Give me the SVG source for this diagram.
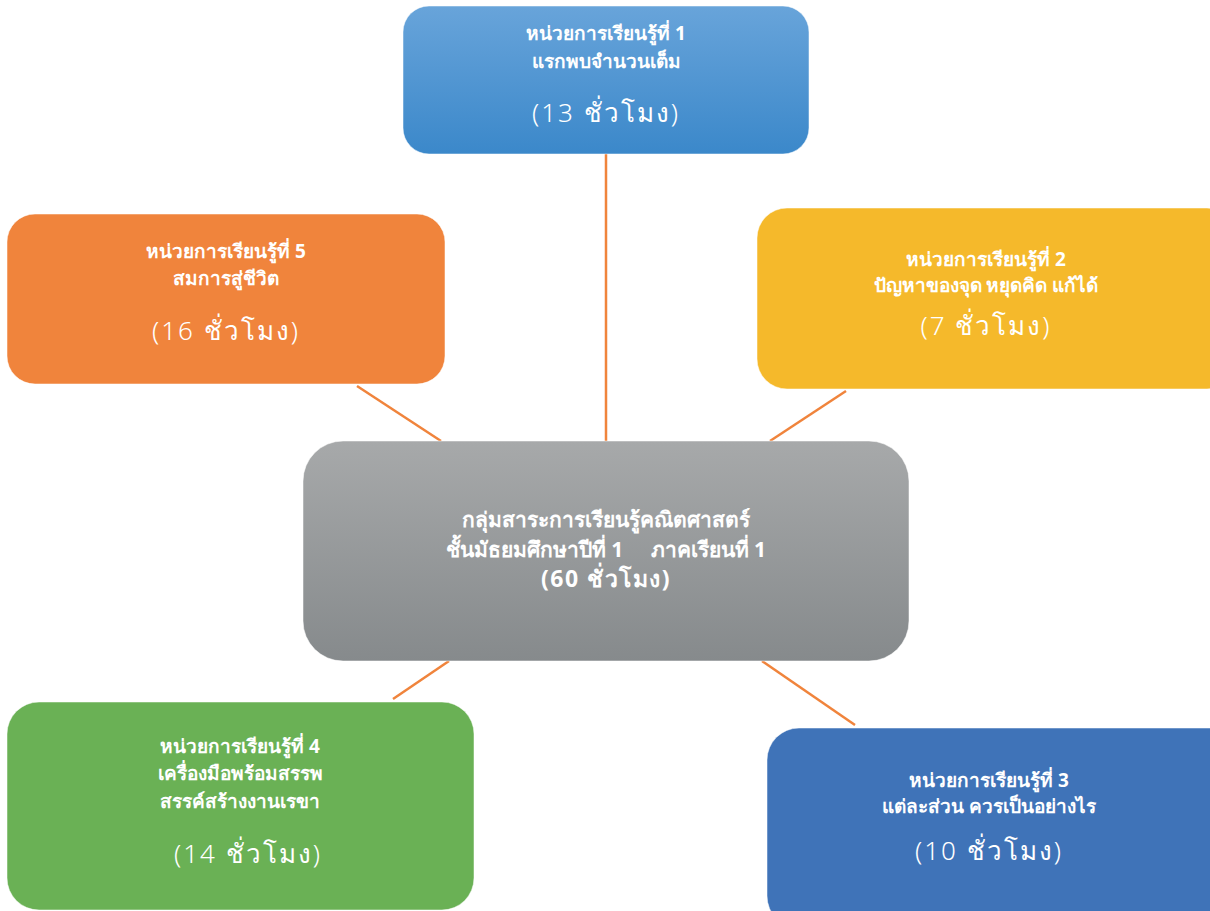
<svg xmlns="http://www.w3.org/2000/svg" width="1210" height="911" viewBox="0 0 1210 911">
<defs>
<linearGradient id="gBlue" x1="0" y1="0" x2="0" y2="1"><stop offset="0" stop-color="#68a4da"/><stop offset="1" stop-color="#3b88ca"/></linearGradient>
<linearGradient id="gGray" x1="0" y1="0" x2="0" y2="1"><stop offset="0" stop-color="#a7a9aa"/><stop offset="1" stop-color="#868a8c"/></linearGradient>
<style>
.t{font-family:"Noto Sans","DejaVu Sans",sans-serif;font-weight:bold;font-size:19px;fill:#fff;text-anchor:middle}
.h{font-family:"Noto Sans","DejaVu Sans",sans-serif;font-weight:300;font-size:26px;fill:#fff;text-anchor:middle;letter-spacing:2px}
.c{font-family:"Noto Sans","DejaVu Sans",sans-serif;font-weight:bold;font-size:21px;fill:#fff;text-anchor:middle}
.box{stroke:#ffffff;stroke-opacity:0.5;stroke-width:1}
.con{stroke:#f0843c;stroke-width:2.5;fill:none}
</style>
</defs>
<rect width="1210" height="911" fill="#fff"/>
<g id="connectors">
<line class="con" x1="606" y1="154" x2="606" y2="441"/>
<line class="con" x1="357" y1="386" x2="441" y2="441"/>
<line class="con" x1="846" y1="391" x2="770" y2="441"/>
<line class="con" x1="449" y1="661" x2="393" y2="699"/>
<line class="con" x1="762" y1="661" x2="855" y2="725"/>
</g>
<g id="unit1">
<rect class="box" x="403" y="6" width="406" height="148" rx="26" fill="url(#gBlue)"/>
<text class="t" x="606" y="40">หน่วยการเรียนรู้ที่ 1</text>
<text class="t" x="606" y="68">แรกพบจำนวนเต็ม</text>
<text class="h" x="606" y="122">(13 ชั่วโมง)</text>
</g>
<g id="unit2">
<rect class="box" x="757" y="208" width="480" height="181" rx="30" fill="#f5b92b"/>
<text class="t" x="986" y="266">หน่วยการเรียนรู้ที่ 2</text>
<text class="t" x="986" y="292">ปัญหาของจุด หยุดคิด แก้ได้</text>
<text class="h" x="986" y="335">(7 ชั่วโมง)</text>
</g>
<g id="unit5">
<rect class="box" x="7" y="214" width="438" height="170" rx="28" fill="#f0843c"/>
<text class="t" x="226" y="258">หน่วยการเรียนรู้ที่ 5</text>
<text class="t" x="226" y="285">สมการสู่ชีวิต</text>
<text class="h" x="226" y="340">(16 ชั่วโมง)</text>
</g>
<g id="center">
<rect class="box" x="303" y="441" width="606" height="220" rx="40" fill="url(#gGray)"/>
<text class="c" x="606" y="527">กลุ่มสาระการเรียนรู้คณิตศาสตร์</text>
<text class="c" x="606" y="557" xml:space="preserve">ชั้นมัธยมศึกษาปีที่ 1     ภาคเรียนที่ 1</text>
<text class="c" x="606" y="587" style="font-size:23px;letter-spacing:1.5px">(60 ชั่วโมง)</text>
</g>
<g id="unit4">
<rect class="box" x="7" y="702" width="467" height="208" rx="32" fill="#6ab155"/>
<text class="t" x="240" y="753">หน่วยการเรียนรู้ที่ 4</text>
<text class="t" x="240" y="780">เครื่องมือพร้อมสรรพ</text>
<text class="t" x="240" y="808">สรรค์สร้างงานเรขา</text>
<text class="h" x="248" y="863">(14 ชั่วโมง)</text>
</g>
<g id="unit3">
<rect class="box" x="767" y="728" width="480" height="200" rx="32" fill="#3f73b8"/>
<text class="t" x="989" y="787">หน่วยการเรียนรู้ที่ 3</text>
<text class="t" x="989" y="813">แต่ละส่วน ควรเป็นอย่างไร</text>
<text class="h" x="989" y="860">(10 ชั่วโมง)</text>
</g>
</svg>
